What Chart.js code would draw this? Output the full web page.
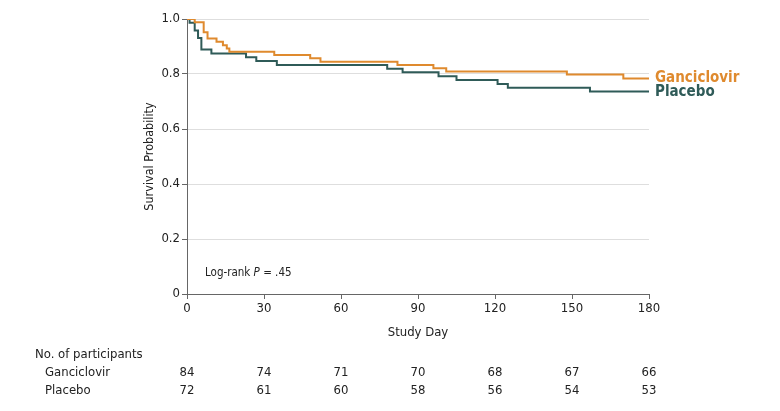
<!DOCTYPE html>
<html>
<head>
<meta charset="utf-8">
<script src="https://cdn.jsdelivr.net/npm/chart.js@4.4.1/dist/chart.umd.min.js"></script>
<style>
html,body{margin:0;padding:0;background:#fff;}
#wrap{position:relative;width:780px;height:411px;}
</style>
</head>
<body>
<div id="wrap"><canvas id="c" width="780" height="411"></canvas></div>
<script>
// Kaplan-Meier step data (day, survival probability)
const gancDays = [0, 3, 6.5, 8, 11.5, 14, 15.5, 16.5, 34, 48, 52, 82, 96, 101, 148, 170, 180];
const gancSurv = [1.0, 0.988, 0.952, 0.929, 0.917, 0.905, 0.893, 0.881, 0.869, 0.857, 0.845, 0.833, 0.821, 0.809, 0.798, 0.784, 0.784];
const placDays = [0, 1, 3, 4.3, 5.6, 9.5, 23, 27, 35, 78, 84, 98, 105, 121, 125, 157, 180];
const placSurv = [1.0, 0.986, 0.958, 0.931, 0.889, 0.875, 0.861, 0.847, 0.833, 0.819, 0.806, 0.792, 0.778, 0.764, 0.75, 0.736, 0.736];

const xTicks = [0, 30, 60, 90, 120, 150, 180];
const yTicks = [0, 0.2, 0.4, 0.6, 0.8, 1.0];
const riskGanc = [84, 74, 71, 70, 68, 67, 66];
const riskPlac = [72, 61, 60, 58, 56, 54, 53];
const seriesNames = ['Ganciclovir', 'Placebo'];

const ORANGE = '#DF8A2E';
const TEAL = '#2F5B58';
const FONT = "'Liberation Sans Narrow', 'DejaVu Sans Condensed', 'Roboto Condensed', sans-serif";
const TXT = '#222';

function pts(d, s) { return d.map((x, i) => ({x: x, y: s[i]})); }

const annot = {
  id: 'annot',
  afterDraw(chart) {
    const ctx = chart.ctx;
    const xs = chart.scales.x, ys = chart.scales.y;
    ctx.save();
    // end labels
    ctx.font = "bold 15px " + FONT;
    ctx.textAlign = 'left';
    ctx.textBaseline = 'middle';
    const xe = xs.getPixelForValue(180) + 6;
    ctx.fillStyle = ORANGE;
    ctx.fillText(seriesNames[0], xe, ys.getPixelForValue(gancSurv[gancSurv.length - 1]));
    ctx.fillStyle = TEAL;
    ctx.fillText(seriesNames[1], xe, ys.getPixelForValue(placSurv[placSurv.length - 1]) + 1);
    // log-rank
    ctx.fillStyle = TXT;
    ctx.font = "11.5px " + FONT;
    let x0 = 205, y0 = 273;
    const t1 = 'Log-rank ';
    ctx.fillText(t1, x0, y0);
    x0 += ctx.measureText(t1).width;
    ctx.font = "italic 11.5px " + FONT;
    ctx.fillText('P', x0, y0);
    x0 += ctx.measureText('P ').width;
    ctx.font = "11.5px " + FONT;
    ctx.fillText('= .45', x0, y0);
    // risk table
    ctx.font = "13px " + FONT;
    ctx.fillText('No. of participants', 35, 355);
    ctx.fillText(seriesNames[0], 45, 373);
    ctx.fillText(seriesNames[1], 45, 391);
    ctx.textAlign = 'center';
    xTicks.forEach((t, i) => {
      const px = xs.getPixelForValue(t);
      ctx.fillText(String(riskGanc[i]), px, 373);
      ctx.fillText(String(riskPlac[i]), px, 391);
    });
    ctx.restore();
  }
};

new Chart(document.getElementById('c'), {
  type: 'line',
  data: {
    datasets: [
      {label: seriesNames[0], data: pts(gancDays, gancSurv), borderColor: ORANGE, borderWidth: 2, stepped: true, pointRadius: 0, fill: false},
      {label: seriesNames[1], data: pts(placDays, placSurv), borderColor: TEAL, borderWidth: 2, stepped: true, pointRadius: 0, fill: false}
    ]
  },
  options: {
    responsive: false,
    animation: false,
    events: [],
    layout: {padding: {left: 138, right: 131, top: 19, bottom: 67}},
    plugins: {legend: {display: false}, tooltip: {enabled: false}},
    scales: {
      x: {
        type: 'linear', min: 0, max: 180,
        afterBuildTicks(s) { s.ticks = xTicks.map(v => ({value: v})); },
        afterFit(s) { s.height = 50; },
        grid: {drawOnChartArea: false, tickLength: 5, tickColor: '#666'},
        border: {color: '#666', width: 1},
        ticks: {color: TXT, font: {family: FONT, size: 13}, padding: 2, maxRotation: 0},
        title: {display: true, text: 'Study Day', color: TXT, font: {family: FONT, size: 13}}
      },
      y: {
        type: 'linear', min: 0, max: 1,
        afterBuildTicks(s) { s.ticks = yTicks.map(v => ({value: v})); },
        afterFit(s) { s.width = 49; },
        grid: {color: '#dedede', lineWidth: 1, tickLength: 5, tickColor: '#666'},
        border: {color: '#666', width: 1},
        ticks: {color: TXT, font: {family: FONT, size: 13}, padding: 2,
          callback: v => v === 0 ? '0' : v.toFixed(1)},
        title: {display: true, text: 'Survival Probability', color: TXT, font: {family: FONT, size: 12.5}}
      }
    }
  },
  plugins: [annot]
});
</script>
</body>
</html>
